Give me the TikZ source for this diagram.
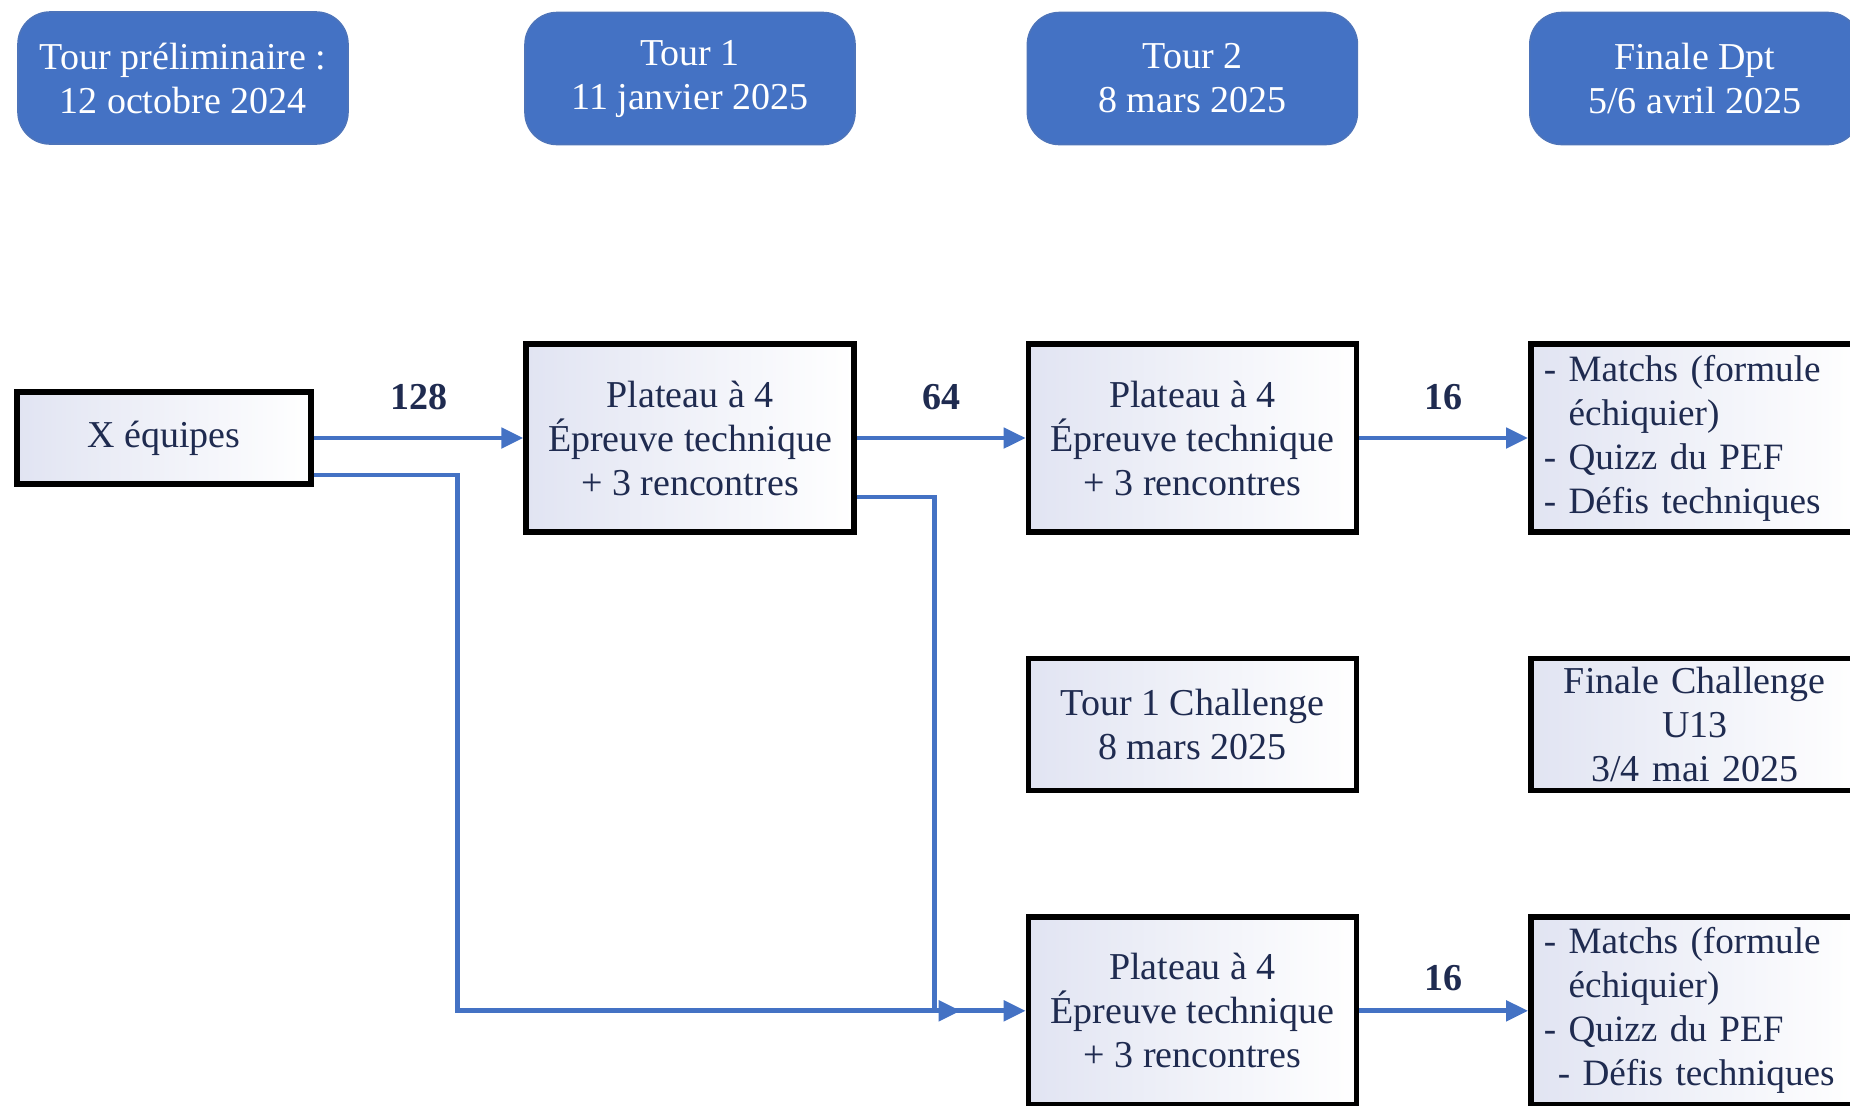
\documentclass[tikz,border=0pt]{standalone}
\usepackage{fontspec}
\setmainfont{Liberation Serif}
\usetikzlibrary{arrows.meta, positioning}
\definecolor{bleu}{HTML}{4472C4}
\definecolor{encre}{HTML}{1F2B50}
\definecolor{lavande}{HTML}{E1E4F2}
\tikzstyle{texte}=[font=\fontsize{19}{22}\selectfont]
\tikzstyle{etape}=[texte, rectangle, rounded corners=16pt, fill=bleu, draw=bleu!85!gray, line width=0.8pt, text=white, minimum width=165pt, minimum height=66pt, align=center]
\tikzstyle{bloc}=[texte, rectangle, draw=black, line width=2.7pt, left color=lavande, right color=white, text=encre, minimum width=164pt, align=center]
\tikzstyle{liste}=[bloc, font=\fontsize{18.6}{22}\selectfont, align=left, text width=151pt, inner xsep=6.5pt, minimum height=94pt]
\tikzstyle{fleche}=[draw=bleu, line width=2.4pt, -{Triangle[length=11pt, width=10pt]}]
\tikzstyle{nombre}=[font={\fontsize{19}{22}\selectfont\bfseries}, text=encre]

\begin{document}
\begin{tikzpicture}[x=0.5pt, y=-0.5pt]
  \useasboundingbox (0,0) rectangle (1850,1105);
  \clip (0,0) rectangle (1850,1105);

  % colonne de gauche
  \node[bloc, minimum width=147pt, minimum height=46pt] (xeq) at (164,438) {X équipes};
  \node[bloc, minimum height=94pt] (t1) at (690,438) {Plateau à 4\\Épreuve technique\\+ 3 rencontres};
  \node[bloc, minimum height=94pt] (t2) [right=84.5pt of t1] {Plateau à 4\\Épreuve technique\\+ 3 rencontres};
  \node[liste] (f1) [right=84.5pt of t2] {- Matchs (formule\\\hphantom{- }échiquier)\\- Quizz du PEF\\- Défis techniques};
  \node[bloc, minimum height=66pt] (ch1) [below=60.5pt of t2] {Tour 1 Challenge\\8 mars 2025};
  \node[bloc, text width=151pt, inner xsep=6.5pt, minimum height=66pt] (ch2) [below=60.5pt of f1] {Finale Challenge\\U13\\3/4 mai 2025};
  \node[bloc, minimum height=94pt] (t3) [below=60.5pt of ch1] {Plateau à 4\\Épreuve technique\\+ 3 rencontres};
  \node[liste] (f2) [below=60.5pt of ch2] {- Matchs (formule\\\hphantom{- }échiquier)\\- Quizz du PEF\\\hspace*{7pt}- Défis techniques};

  % dates
  \node[etape] (h1) at (183,78) {Tour préliminaire :\\12 octobre 2024};
  \node[etape] (h2) [above=98pt of t1] {Tour 1\\11 janvier 2025};
  \node[etape] (h3) [above=98pt of t2] {Tour 2\\8 mars 2025};
  \node[etape] (h4) [above=98pt of f1] {Finale Dpt\\5/6 avril 2025};

  \draw[fleche] (xeq) -- node[nombre, above=9.5pt] {128} (t1);
  \draw[fleche] (t1) -- node[nombre, above=9.5pt] {64} (t2);
  \draw[fleche] (t2) -- node[nombre, above=9.5pt] {16} (f1);
  \draw[fleche] (t3) -- node[nombre, above=5.5pt] {16} (f2);
  \draw[fleche] ([yshift=-18.5pt]xeq.east) -- ++(72pt,0) |- (t3);
  \draw[fleche] ([yshift=-29.5pt]t1.east) -- ++(39pt,0) |- ([xshift=-32.5pt]t3.west);
\end{tikzpicture}
\end{document}
